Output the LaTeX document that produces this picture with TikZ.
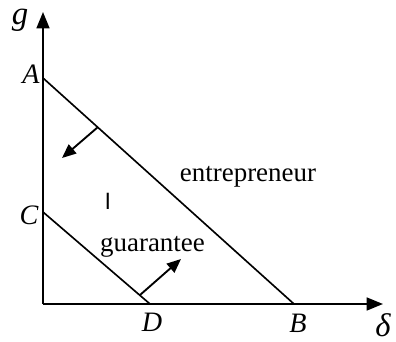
\documentclass[tikz,border=0pt]{standalone}
\usepackage{fontspec}
\setmainfont{Liberation Serif}
\usetikzlibrary{arrows.meta}
\begin{document}
\begin{tikzpicture}[x=0.015cm, y=-0.015cm,
  axis/.style={line width=0.9pt, -{Triangle[length=7pt, width=5.5pt]}},
  bound/.style={line width=0.7pt},
  shiftarrow/.style={line width=0.8pt, -{Triangle[length=6pt, width=5pt]}},
  ptlabel/.style={font=\fontsize{12}{12}\selectfont\itshape, inner sep=0pt},
  axlabel/.style={font=\fontsize{14}{14}\selectfont\itshape, inner sep=0pt},
  curvelabel/.style={font=\fontsize{11.5}{11.5}\selectfont, inner sep=0pt, anchor=base}]
  \useasboundingbox (0,0) rectangle (396,342);

  % axes
  \coordinate (O) at (43,304);
  \coordinate (gtip) at (43,12);
  \coordinate (dtip) at (383,304);
  \draw[axis] (O) -- (gtip);
  \draw[axis] (O) -- (dtip);
  \node[axlabel] (glab) at (20,20) {g};
  \node[axlabel] (dlab) at (383,325) {δ};

  % intercepts
  \coordinate (A) at (43,78);
  \coordinate (B) at (294,304);
  \coordinate (C) at (43,212);
  \coordinate (D) at (150,304);
  \node[ptlabel] (Alab) at (31,74) {A};
  \node[ptlabel] (Blab) at (298,323) {B};
  \node[ptlabel] (Clab) at (29,215) {C};
  \node[ptlabel] (Dlab) at (152,322) {D};

  % boundaries
  \draw[bound] (A) -- (B);
  \draw[bound] (C) -- (D);

  % shift directions
  \coordinate (ab0) at (98,127);
  \coordinate (ab1) at (62,158);
  \coordinate (cd0) at (140,295);
  \coordinate (cd1) at (181,259);
  \draw[shiftarrow] (ab0) -- (ab1);
  \draw[shiftarrow] (cd0) -- (cd1);

  % labels
  \node[curvelabel] (ent) at (248,181) {entrepreneur};
  \node[curvelabel] (gua) at (152.5,251) {guarantee};
  \node[font=\fontsize{10}{10}\sffamily, inner sep=0pt] (reg) at (108,201) {I};
\end{tikzpicture}
\end{document}
